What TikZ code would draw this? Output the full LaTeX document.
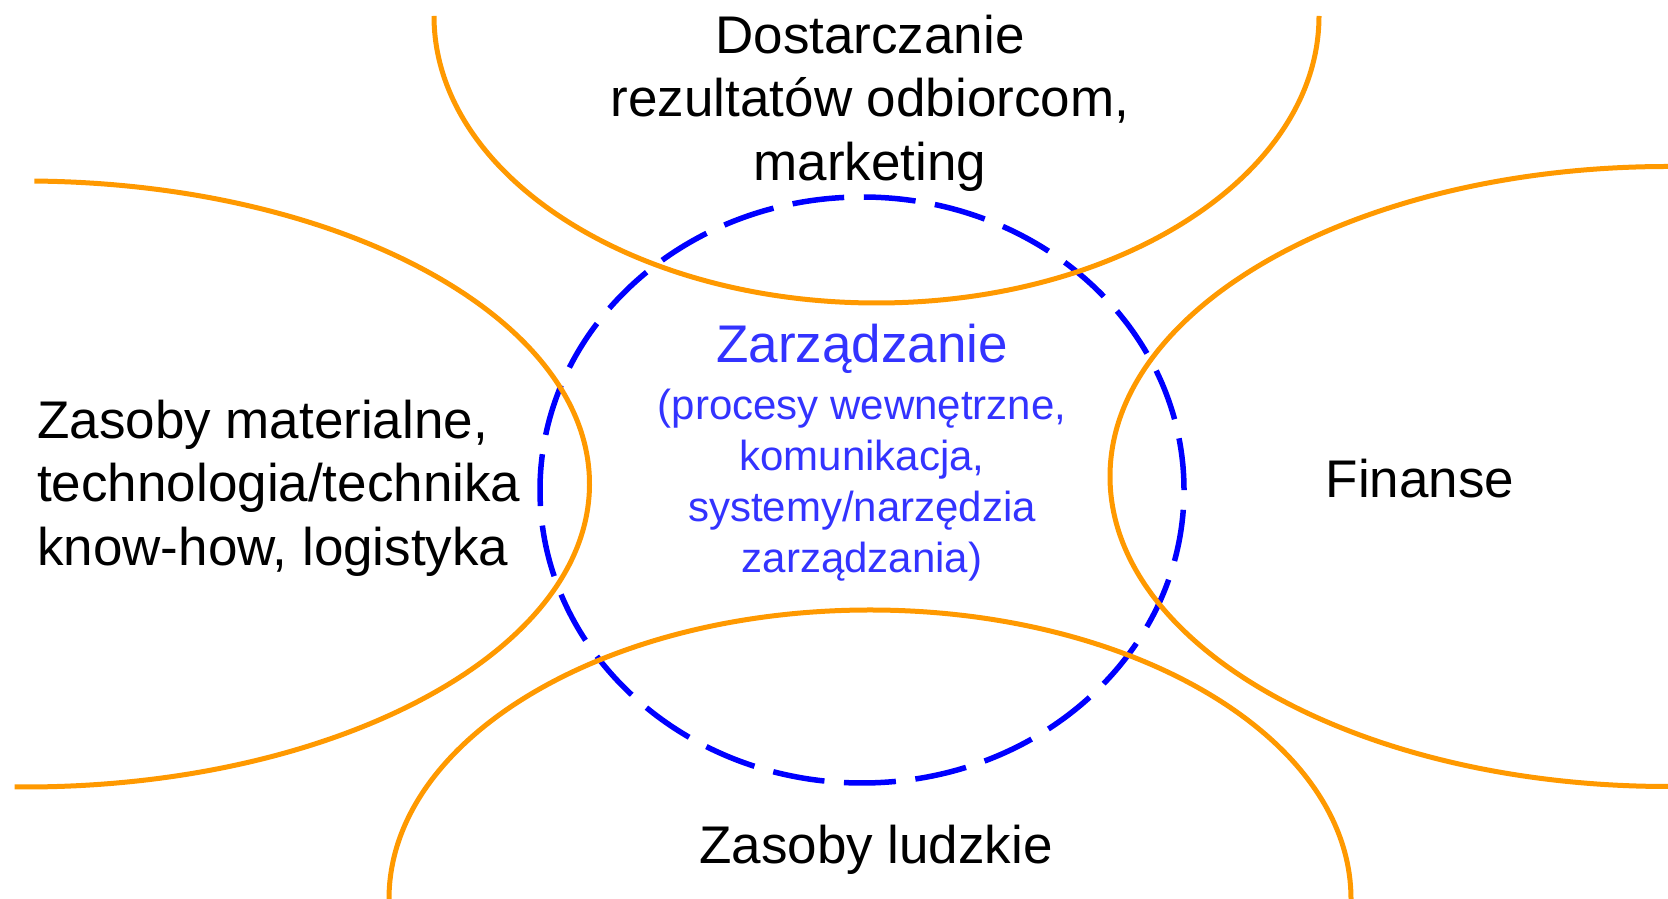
\documentclass[tikz,border=0pt]{standalone}
\usepackage{fontspec}
\setmainfont{Liberation Sans}
\definecolor{orng}{RGB}{255,153,0}
\definecolor{dblue}{RGB}{0,0,255}
\definecolor{tblue}{RGB}{51,51,255}
\begin{document}
\begin{tikzpicture}[x=1pt,y=1pt,
  orangearc/.style={draw=orng,line width=5pt},
  bluering/.style={draw=dblue,line width=5.5pt,dash pattern=on 52pt off 19.6pt},
  lbl/.style={font=\fontsize{53}{63.5}\selectfont,inner sep=0pt},
  subl/.style={font=\fontsize{42}{51}\selectfont,text=tblue,inner sep=0pt}]
\useasboundingbox (0,0) rectangle (1668,899);
% centre dashed ellipse
\coordinate (Mc) at (862,409);
\draw[bluering] (Mc) ellipse [x radius=322, y radius=293];
% orange ellipses
\coordinate (Lc) at (24.5,415);
\coordinate (Tc) at (876.5,883);
\coordinate (Rc) at (1668,422.5);
\coordinate (Bc) at (870,0);
\draw[orangearc] (Lc) ++(89:565 and 303) arc[start angle=89,end angle=-91,x radius=565,y radius=303];
\draw[orangearc] (Tc) ++(180:442.5 and 287) arc[start angle=180,end angle=360,x radius=442.5,y radius=287];
\draw[orangearc] (Rc) ++(90:558 and 310) arc[start angle=90,end angle=270,x radius=558,y radius=310];
\draw[orangearc] (Bc) ++(180:481 and 289) arc[start angle=180,end angle=0,x radius=481,y radius=289];
% texts
\node[lbl,align=center] (dostarcz) at (870,796) {Dostarczanie\\rezultatów odbiorcom,\\marketing};
\node[lbl,align=left,anchor=west] (zasoby) at (37,411) {Zasoby materialne,\\technologia/technika\\know-how, logistyka};
\node[lbl] (finanse) at (1420,420) {Finanse};
\node[lbl] (ludzkie) at (876,49) {Zasoby ludzkie};
\node[lbl,text=tblue] (zarz) at (862,550) {Zarządzanie};
\node[subl,align=center] (zarzsub) at (862,414) {(procesy wewnętrzne,\\komunikacja,\\systemy/narzędzia\\zarządzania)};
\end{tikzpicture}
\end{document}
